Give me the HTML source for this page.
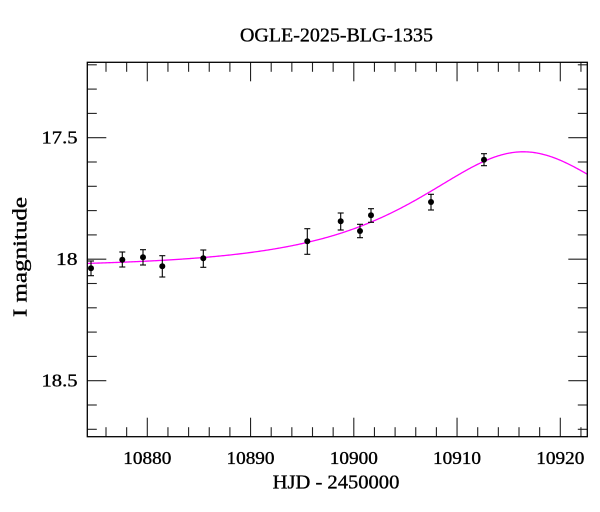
<!DOCTYPE html>
<html>
<head>
<meta charset="utf-8">
<style>
  html, body { margin: 0; padding: 0; background: #ffffff; }
  svg { display: block; }
  text { font-family: "Liberation Serif", "DejaVu Serif", serif; fill: #000; stroke: #000; stroke-width: 0.35; }
</style>
</head>
<body>
<svg id="chart" width="600" height="512" viewBox="0 0 600 512" xmlns="http://www.w3.org/2000/svg">
  <rect x="0" y="0" width="600" height="512" fill="#ffffff"/>

  <!-- Title -->
  <text x="336.5" y="41.7" font-size="20" text-anchor="middle" textLength="193" lengthAdjust="spacingAndGlyphs">OGLE-2025-BLG-1335</text>

  <!-- ticks -->
  <g id="ticks" stroke="#222" stroke-width="1.1" fill="none"></g>

  <!-- model curve -->
  <defs>
    <clipPath id="plotclip"><rect x="87.3" y="62.3" width="500" height="374.4"/></clipPath>
  </defs>
  <path id="curve" d="" stroke="#ff00ff" stroke-width="1.3" fill="none" clip-path="url(#plotclip)"/>

  <!-- data -->
  <g id="data" stroke="#000" stroke-width="1.1" fill="#000"></g>

  <!-- frame -->
  <rect x="87.3" y="62.3" width="500" height="374.4" fill="none" stroke="#000" stroke-width="1.3"/>

  <!-- Y tick labels -->
  <text x="77.5" y="143.5" font-size="17.5" text-anchor="end" textLength="36" lengthAdjust="spacingAndGlyphs">17.5</text>
  <text x="77.5" y="265" font-size="17.5" text-anchor="end" textLength="21.5" lengthAdjust="spacingAndGlyphs">18</text>
  <text x="77.5" y="386.5" font-size="17.5" text-anchor="end" textLength="36" lengthAdjust="spacingAndGlyphs">18.5</text>

  <!-- X tick labels -->
  <text x="147.3" y="464" font-size="17.5" text-anchor="middle" textLength="48" lengthAdjust="spacingAndGlyphs">10880</text>
  <text x="250.5" y="464" font-size="17.5" text-anchor="middle" textLength="48" lengthAdjust="spacingAndGlyphs">10890</text>
  <text x="353.8" y="464" font-size="17.5" text-anchor="middle" textLength="48" lengthAdjust="spacingAndGlyphs">10900</text>
  <text x="457.0" y="464" font-size="17.5" text-anchor="middle" textLength="48" lengthAdjust="spacingAndGlyphs">10910</text>
  <text x="560.3" y="464" font-size="17.5" text-anchor="middle" textLength="48" lengthAdjust="spacingAndGlyphs">10920</text>

  <!-- Axis labels -->
  <text x="336" y="488.3" font-size="19.5" text-anchor="middle" textLength="126.7" lengthAdjust="spacingAndGlyphs">HJD - 2450000</text>
  <text transform="translate(26.5,257) rotate(-90)" x="0" y="0" font-size="19.5" text-anchor="middle" textLength="120" lengthAdjust="spacingAndGlyphs">I magnitude</text>
</svg>

<script>
(function(){
  var NS = "http://www.w3.org/2000/svg";
  var L = 87.3, R = 587.3, T = 62.3, B = 436.7;
  var ticks = document.getElementById("ticks");
  function line(x1,y1,x2,y2,parent){
    var l = document.createElementNS(NS,"line");
    l.setAttribute("x1",x1); l.setAttribute("y1",y1);
    l.setAttribute("x2",x2); l.setAttribute("y2",y2);
    (parent||ticks).appendChild(l);
  }
  var pxPerDay = 10.325;
  function xOf(d){ return 147.3 + (d - 10880) * pxPerDay; }
  for (var d = 10876; d <= 10922; d += 2) {
    var x = xOf(d);
    if (x <= L + 0.5 || x >= R - 0.5) continue;
    var len = (d % 10 === 0) ? 19 : 9.5;
    line(x, B, x, B - len);
    line(x, T, x, T + len);
  }
  var pxPerMag = 243;
  function yOf(m){ return 137.7 + (m - 17.5) * pxPerMag; }
  for (var i = 2; i <= 17; i++) {
    var m = 17.0 + i * 0.1;
    var y = yOf(m);
    if (y <= T + 0.5 || y >= B - 0.5) continue;
    var major = (i % 5 === 0);
    var len2 = major ? 19 : 9.5;
    line(L, y, L + len2, y);
    line(R, y, R - len2, y);
  }

  var t0 = 10916.42, u0 = 0.786, tE = 14.12, Y0 = 267.4;
  var dstr = "";
  for (var px = 86; px <= 589; px += 1) {
    var day = 10880 + (px - 147.3) / pxPerDay;
    var tau = (day - t0) / tE;
    var u2 = u0*u0 + tau*tau;
    var u = Math.sqrt(u2);
    var A = (u2 + 2) / (u * Math.sqrt(u2 + 4));
    var yy = Y0 - pxPerMag * 2.5 * Math.log10(A);
    dstr += (px === 86 ? "M" : "L") + px.toFixed(1) + "," + yy.toFixed(2) + " ";
  }
  document.getElementById("curve").setAttribute("d", dstr);

  var pts = [
    [91.0, 268.3, 261.0, 275.7],
    [122.3, 259.7, 252.0, 267.0],
    [143.0, 257.3, 249.7, 265.0],
    [162.3, 266.3, 255.7, 277.0],
    [203.3, 258.3, 250.0, 267.3],
    [307.3, 241.3, 228.7, 254.3],
    [340.7, 221.3, 213.0, 230.0],
    [360.0, 231.0, 224.3, 237.7],
    [371.0, 215.3, 208.7, 222.3],
    [431.0, 202.0, 194.3, 210.0],
    [484.0, 159.7, 153.7, 165.7]
  ];
  var g = document.getElementById("data");
  pts.forEach(function(p){
    line(p[0], p[2], p[0], p[3], g);
    line(p[0]-3, p[2], p[0]+3, p[2], g);
    line(p[0]-3, p[3], p[0]+3, p[3], g);
    var c = document.createElementNS(NS,"circle");
    c.setAttribute("cx", p[0]); c.setAttribute("cy", p[1]); c.setAttribute("r", 3);
    c.setAttribute("stroke","none");
    g.appendChild(c);
  });
})();
</script>
</body>
</html>
